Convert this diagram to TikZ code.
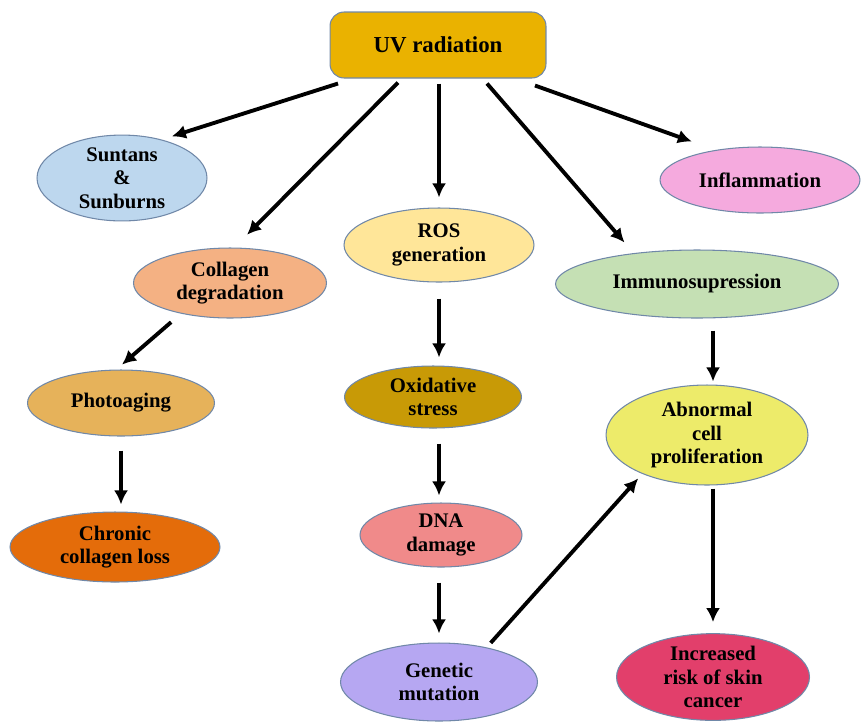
\documentclass[tikz,border=0pt]{standalone}
\usepackage{fontspec}
\setmainfont{Liberation Serif}
\usepackage{xcolor}
\usetikzlibrary{arrows.meta,shapes.geometric}

\definecolor{uvgold}{HTML}{EAB200}
\definecolor{sunblue}{HTML}{BDD7EE}
\definecolor{inflpink}{HTML}{F5AADE}
\definecolor{collpeach}{HTML}{F4B183}
\definecolor{rosyellow}{HTML}{FFE699}
\definecolor{immgreen}{HTML}{C5E0B4}
\definecolor{phototan}{HTML}{E6B25A}
\definecolor{oxgold}{HTML}{C89A06}
\definecolor{abnyellow}{HTML}{EDEB6A}
\definecolor{chronorange}{HTML}{E46C0A}
\definecolor{dnasalmon}{HTML}{F08A8A}
\definecolor{genlilac}{HTML}{B6A7F2}
\definecolor{incred}{HTML}{E23F6B}
\definecolor{rimblue}{HTML}{7088A8}

\begin{document}
\begin{tikzpicture}[x=0.02cm, y=-0.02cm,
    box/.style={draw=rimblue, line width=0.6pt, inner sep=0pt, align=center,
      font=\fontsize{11.8}{13.3}\selectfont\bfseries},
    oval/.style={box, shape=ellipse},
    arr/.style={line width=2.2pt, -{Latex[length=8pt,width=8pt]}}]
    \useasboundingbox (0,0) rectangle (861,721);

    \node[box, rectangle, rounded corners=8pt, fill=uvgold, minimum width=4.32cm, minimum height=1.32cm,
      font=\fontsize{13}{15}\selectfont\bfseries] (uv) at (438,45) {UV radiation};
    \node[oval, fill=sunblue, minimum width=3.4cm, minimum height=1.64cm] (sun) at (122,178) {Suntans\\\&\\Sunburns};
    \node[oval, fill=inflpink, minimum width=4cm, minimum height=1.32cm] (infl) at (760,180) {Inflammation};
    \node[oval, fill=collpeach, minimum width=3.86cm, minimum height=1.4cm] (coll) at (230,283) {Collagen\\degradation};
    \node[oval, fill=rosyellow, minimum width=3.8cm, minimum height=1.48cm] (ros) at (439,245) {ROS\\generation};
    \node[oval, fill=immgreen, minimum width=5.66cm, minimum height=1.36cm] (imm) at (697,284) {Immunosupression};
    \node[oval, fill=phototan, minimum width=3.74cm, minimum height=1.32cm] (photo) at (121,403) {Photoaging};
    \node[oval, fill=oxgold, minimum width=3.54cm, minimum height=1.24cm] (ox) at (433,397) {Oxidative\\stress};
    \node[oval, fill=abnyellow, minimum width=4.04cm, minimum height=2cm] (abn) at (707,435) {Abnormal\\cell\\proliferation};
    \node[oval, fill=chronorange, minimum width=4.2cm, minimum height=1.4cm] (chron) at (115,547) {Chronic\\collagen loss};
    \node[oval, fill=dnasalmon, minimum width=3.24cm, minimum height=1.28cm] (dna) at (441,535) {DNA\\damage};
    \node[oval, fill=genlilac, minimum width=3.94cm, minimum height=1.56cm] (gen) at (439,682) {Genetic\\mutation};
    \node[oval, fill=incred, minimum width=3.86cm, minimum height=1.64cm] (inc) at (713,677) {Increased\\risk of skin\\cancer};

    \draw[arr, shorten >=0.21cm] ([xshift=-2cm,yshift=-0.1cm]uv.south) -- (sun.44);
    \draw[arr, shorten >=0.36cm] ([xshift=-0.8cm,yshift=-0.08cm]uv.south) -- (coll.83);
    \draw[arr, shorten <=0.1cm, shorten >=0.2cm] (uv.south -| ros.north) -- (ros.north);
    \draw[arr, shorten >=0.28cm] ([xshift=0.98cm,yshift=-0.1cm]uv.south) -- (imm.154);
    \draw[arr, shorten >=0.5cm] ([xshift=1.94cm,yshift=-0.14cm]uv.south) -- (infl.146);
    \draw[arr, shorten <=0.26cm, shorten >=0.15cm] (coll.212) -- (photo.98);
    \draw[arr, shorten <=0.28cm, shorten >=0.14cm] (photo.south) -- (photo.south |- chron.north);
    \draw[arr, shorten <=0.32cm, shorten >=0.16cm] (ros.south) -- (ros.south |- ox.north);
    \draw[arr, shorten <=0.3cm, shorten >=0.14cm] (ros.south |- ox.south) -- (ros.south |- dna.north);
    \draw[arr, shorten <=0.3cm, shorten >=0.18cm] (ros.south |- dna.south) -- (ros.south |- gen.north);
    \draw[arr, shorten <=0.12cm, shorten >=0.12cm] (gen.36) -- (abn.211);
    \draw[arr, shorten <=0.24cm, shorten >=0.06cm] (imm.south -| inc.north) -- (abn.north -| inc.north);
    \draw[arr, shorten <=0.06cm, shorten >=0.22cm] (abn.south -| inc.north) -- (inc.north);
\end{tikzpicture}
\end{document}
